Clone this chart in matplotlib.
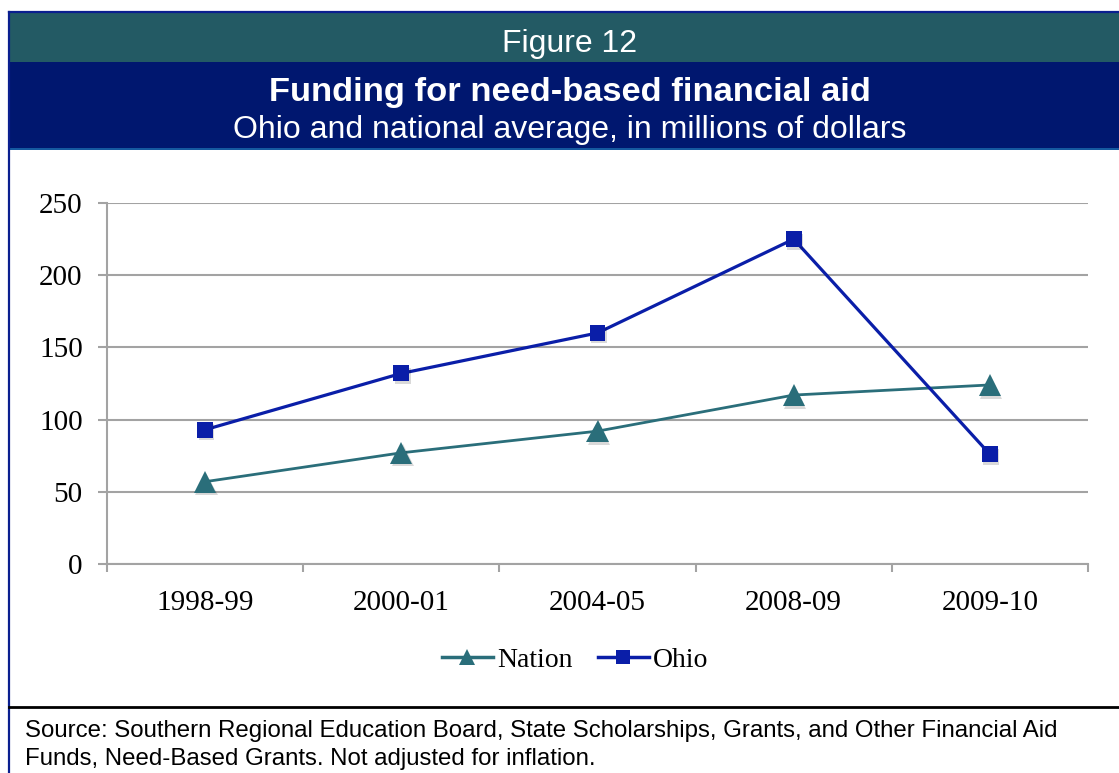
import matplotlib
matplotlib.use("Agg")
import matplotlib.pyplot as plt
from matplotlib.patches import Rectangle
from matplotlib.lines import Line2D
import matplotlib.patheffects as pe

# Data: funding for need-based financial aid, millions of dollars
years = ["1998-99", "2000-01", "2004-05", "2008-09", "2009-10"]
nation = [57, 77, 92, 117, 124]
ohio = [93, 132, 160, 225, 76]
y_ticks = [0, 50, 100, 150, 200, 250]

W, H = 1119, 773
fig = plt.figure(figsize=(W / 100, H / 100), dpi=100)
fig.patch.set_facecolor("white")

def fx(px):
    return px / W

def fy(py):
    return 1 - py / H

TEAL_HEAD = "#235a64"
NAVY = "#00176f"
BORDER = "#0a1f8f"
OHIO_C = "#0a1ea8"
NATION_C = "#2a6e7a"
GRID_C = "#a3a3a3"

# Header bands
fig.patches.append(Rectangle((fx(9), fy(62)), 1, fy(12) - fy(62), transform=fig.transFigure,
                             facecolor=TEAL_HEAD, edgecolor="none", zorder=0))
fig.patches.append(Rectangle((fx(9), fy(148)), 1, fy(62) - fy(148), transform=fig.transFigure,
                             facecolor=NAVY, edgecolor="none", zorder=0))
fig.patches.append(Rectangle((fx(9), fy(150)), 1, fy(148) - fy(150), transform=fig.transFigure,
                             facecolor="#1559a0", edgecolor="none", zorder=0))
# Frame lines
fig.lines.append(Line2D([fx(9), 1], [fy(12), fy(12)], transform=fig.transFigure, color=BORDER, lw=1.6))
fig.lines.append(Line2D([fx(9), fx(9)], [fy(12), 0], transform=fig.transFigure, color=BORDER, lw=1.6))
fig.lines.append(Line2D([fx(9), 1], [fy(707), fy(707)], transform=fig.transFigure, color="black", lw=2.0))

sans = ["Liberation Sans", "DejaVu Sans"]
serif = ["Liberation Serif", "DejaVu Serif"]

cx = 570 / W
fig.text(cx, fy(44), "Figure 12", ha="center", va="center", color="white",
         fontsize=23, family=sans)
fig.text(cx, fy(93), "Funding for need-based financial aid", ha="center", va="center",
         color="white", fontsize=24.8, fontweight="bold", family=sans)
fig.text(cx, fy(130), "Ohio and national average, in millions of dollars", ha="center",
         va="center", color="white", fontsize=23, family=sans)

fig.text(fx(25), fy(731), "Source: Southern Regional Education Board, State Scholarships, Grants, and Other Financial Aid",
         ha="left", va="center", color="black", fontsize=17.3, family=sans)
fig.text(fx(25), fy(759), "Funds, Need-Based Grants. Not adjusted for inflation.",
         ha="left", va="center", color="black", fontsize=17.3, family=sans)

# Plot area
ax = fig.add_axes([fx(107), fy(564), fx(1088) - fx(107), fy(203) - fy(564)])
ax.set_facecolor("none")
x = [i + 0.5 for i in range(len(years))]
ax.set_xlim(0, len(years))
ax.set_ylim(0, 250)

for s in ["top", "right"]:
    ax.spines[s].set_visible(False)
ax.spines["left"].set_color(GRID_C)
ax.spines["left"].set_linewidth(1.5)
ax.spines["bottom"].set_color(GRID_C)
ax.spines["bottom"].set_linewidth(1.5)

ax.set_yticks(y_ticks)
ax.yaxis.grid(True, color=GRID_C, lw=1.5)
ax.set_axisbelow(True)
ax.tick_params(axis="y", length=6.5, width=1.5, color=GRID_C, pad=11, labelsize=21)
ax.set_xticks(range(len(years) + 1))
ax.set_xticklabels([])
ax.tick_params(axis="x", which="major", length=6, width=1.5, color=GRID_C)
ax.set_xticks(x, minor=True)
ax.set_xticklabels(years, minor=True)
ax.tick_params(axis="x", which="minor", length=0, pad=19, labelsize=21)
for lab in ax.get_yticklabels() + ax.get_xticklabels(minor=True):
    lab.set_family(serif)

shadow = [pe.SimplePatchShadow(offset=(1.0, -1.8), shadow_rgbFace="#000000", alpha=0.15), pe.Normal()]

ax.plot(x, nation, color=NATION_C, lw=2.0, zorder=3)
ax.plot(x, ohio, color=OHIO_C, lw=2.3, zorder=3)
ax.plot(x, nation, linestyle="none", marker="^", markersize=16, color=NATION_C,
        markeredgewidth=0, zorder=4, path_effects=shadow)
ax.plot(x, ohio, linestyle="none", marker="s", markersize=11.5, color=OHIO_C,
        markeredgewidth=0, zorder=4, path_effects=shadow)

handles = [
    Line2D([], [], color=NATION_C, lw=2.5, marker="^", markersize=12, markeredgewidth=0),
    Line2D([], [], color=OHIO_C, lw=2.5, marker="s", markersize=10.5, markeredgewidth=0),
]
fig.legend(handles, ["Nation", "Ohio"], loc="center", bbox_to_anchor=(fx(575), fy(660)),
           ncol=2, frameon=False, handlelength=1.85, handletextpad=0.15, columnspacing=0.9,
           prop={"family": serif, "size": 20})

fig.savefig("out.png", dpi=100, facecolor="white")
